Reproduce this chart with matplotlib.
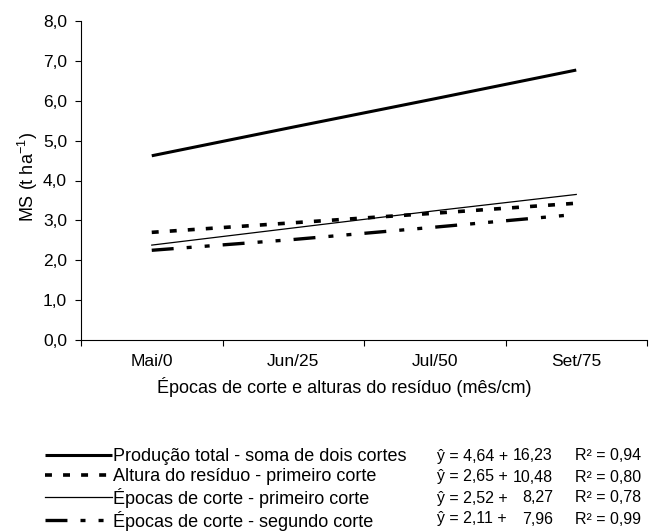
import matplotlib.pyplot as plt
from matplotlib.ticker import FixedLocator, NullFormatter

plt.rcParams['font.family'] = ['Liberation Sans', 'DejaVu Sans']
plt.rcParams['lines.scale_dashes'] = False

categorias = ["Mai/0", "Jun/25", "Jul/50", "Set/75"]
producao_total = [4.62, 5.34, 6.05, 6.77]
altura_residuo_1 = [2.70, 2.94, 3.18, 3.43]
epocas_corte_1 = [2.38, 2.81, 3.24, 3.65]
epocas_corte_2 = [2.25, 2.52, 2.83, 3.15]

rotulos = [
    "Produção total - soma de dois cortes",
    "Altura do resíduo - primeiro corte",
    "Épocas de corte - primeiro corte",
    "Épocas de corte - segundo corte",
]
interceptos = ["ŷ = 4,64 +", "ŷ = 2,65 +", "ŷ = 2,52 +", "ŷ = 2,11 +"]
coeficientes = ["16,23", "10,48", "8,27", "7,96"]
r2 = ["R² = 0,94", "R² = 0,80", "R² = 0,78", "R² = 0,99"]
yticks = [0, 1, 2, 3, 4, 5, 6, 7, 8]

W, H = 649, 531
fig = plt.figure(figsize=(W / 100, H / 100), dpi=100)
ax = fig.add_axes([81 / W, 1 - 340 / H, 566 / W, 319 / H])

x = range(len(categorias))
l1, = ax.plot(x, producao_total, color="k", lw=2.2, solid_capstyle="butt")
l2, = ax.plot(x, altura_residuo_1, color="k", lw=2.6, dashes=(5, 8),
              dash_capstyle="butt")
l3, = ax.plot(x, epocas_corte_1, color="k", lw=0.9)
l4, = ax.plot(x, epocas_corte_2, color="k", lw=2.4,
              dashes=(15.8, 9.4, 3.6, 9.4, 3.6, 9.4), dash_capstyle="butt")

ax.set_xlim(-0.5, len(categorias) - 0.5)
ax.set_ylim(0, 8)
ax.xaxis.set_major_locator(FixedLocator([i - 0.5 for i in range(len(categorias) + 1)]))
ax.xaxis.set_major_formatter(NullFormatter())
ax.xaxis.set_minor_locator(FixedLocator(list(x)))
ax.set_xticklabels(categorias, minor=True)
ax.tick_params(axis="x", which="major", length=4, width=0.8, direction="out")
ax.tick_params(axis="x", which="minor", length=0, pad=10, labelsize=12.5)
ax.set_yticks(yticks)
ax.set_yticklabels([f"{v:.1f}".replace(".", ",") for v in yticks])
ax.tick_params(axis="y", length=4, width=0.8, pad=6, labelsize=12.5)

for s in ["top", "right"]:
    ax.spines[s].set_visible(False)
for s in ["left", "bottom"]:
    ax.spines[s].set_linewidth(0.8)

ax.set_ylabel("MS (t ha$^{\\mathregular{-1}}$)", fontsize=13)
ax.yaxis.set_label_coords(-(81 - 28) / 566, 0.51)
ax.yaxis.label.set_va("center")
ax.set_xlabel("Épocas de corte e alturas do resíduo (mês/cm)", fontsize=13)
ax.xaxis.set_label_coords(0.465, -47 / 319)
ax.xaxis.label.set_va("center")

fig.legend([l1, l2, l3, l4], rotulos, loc="upper left",
           bbox_to_anchor=(45 / W, 1 - 448 / H), frameon=False, fontsize=13,
           handlelength=3.7, handletextpad=0.05, labelspacing=0.16,
           borderpad=0, borderaxespad=0)

linhas_y = [456, 477, 498, 519]
for i, yy in enumerate(linhas_y):
    fy = 1 - yy / H
    fig.text(437 / W, fy, interceptos[i], fontsize=11.5, va="center", ha="left")
    fig.text(553 / W, fy, coeficientes[i], fontsize=11.5, va="center", ha="right")
    fig.text(575 / W, fy, r2[i], fontsize=11.5, va="center", ha="left")

fig.savefig("out.png", dpi=100)
